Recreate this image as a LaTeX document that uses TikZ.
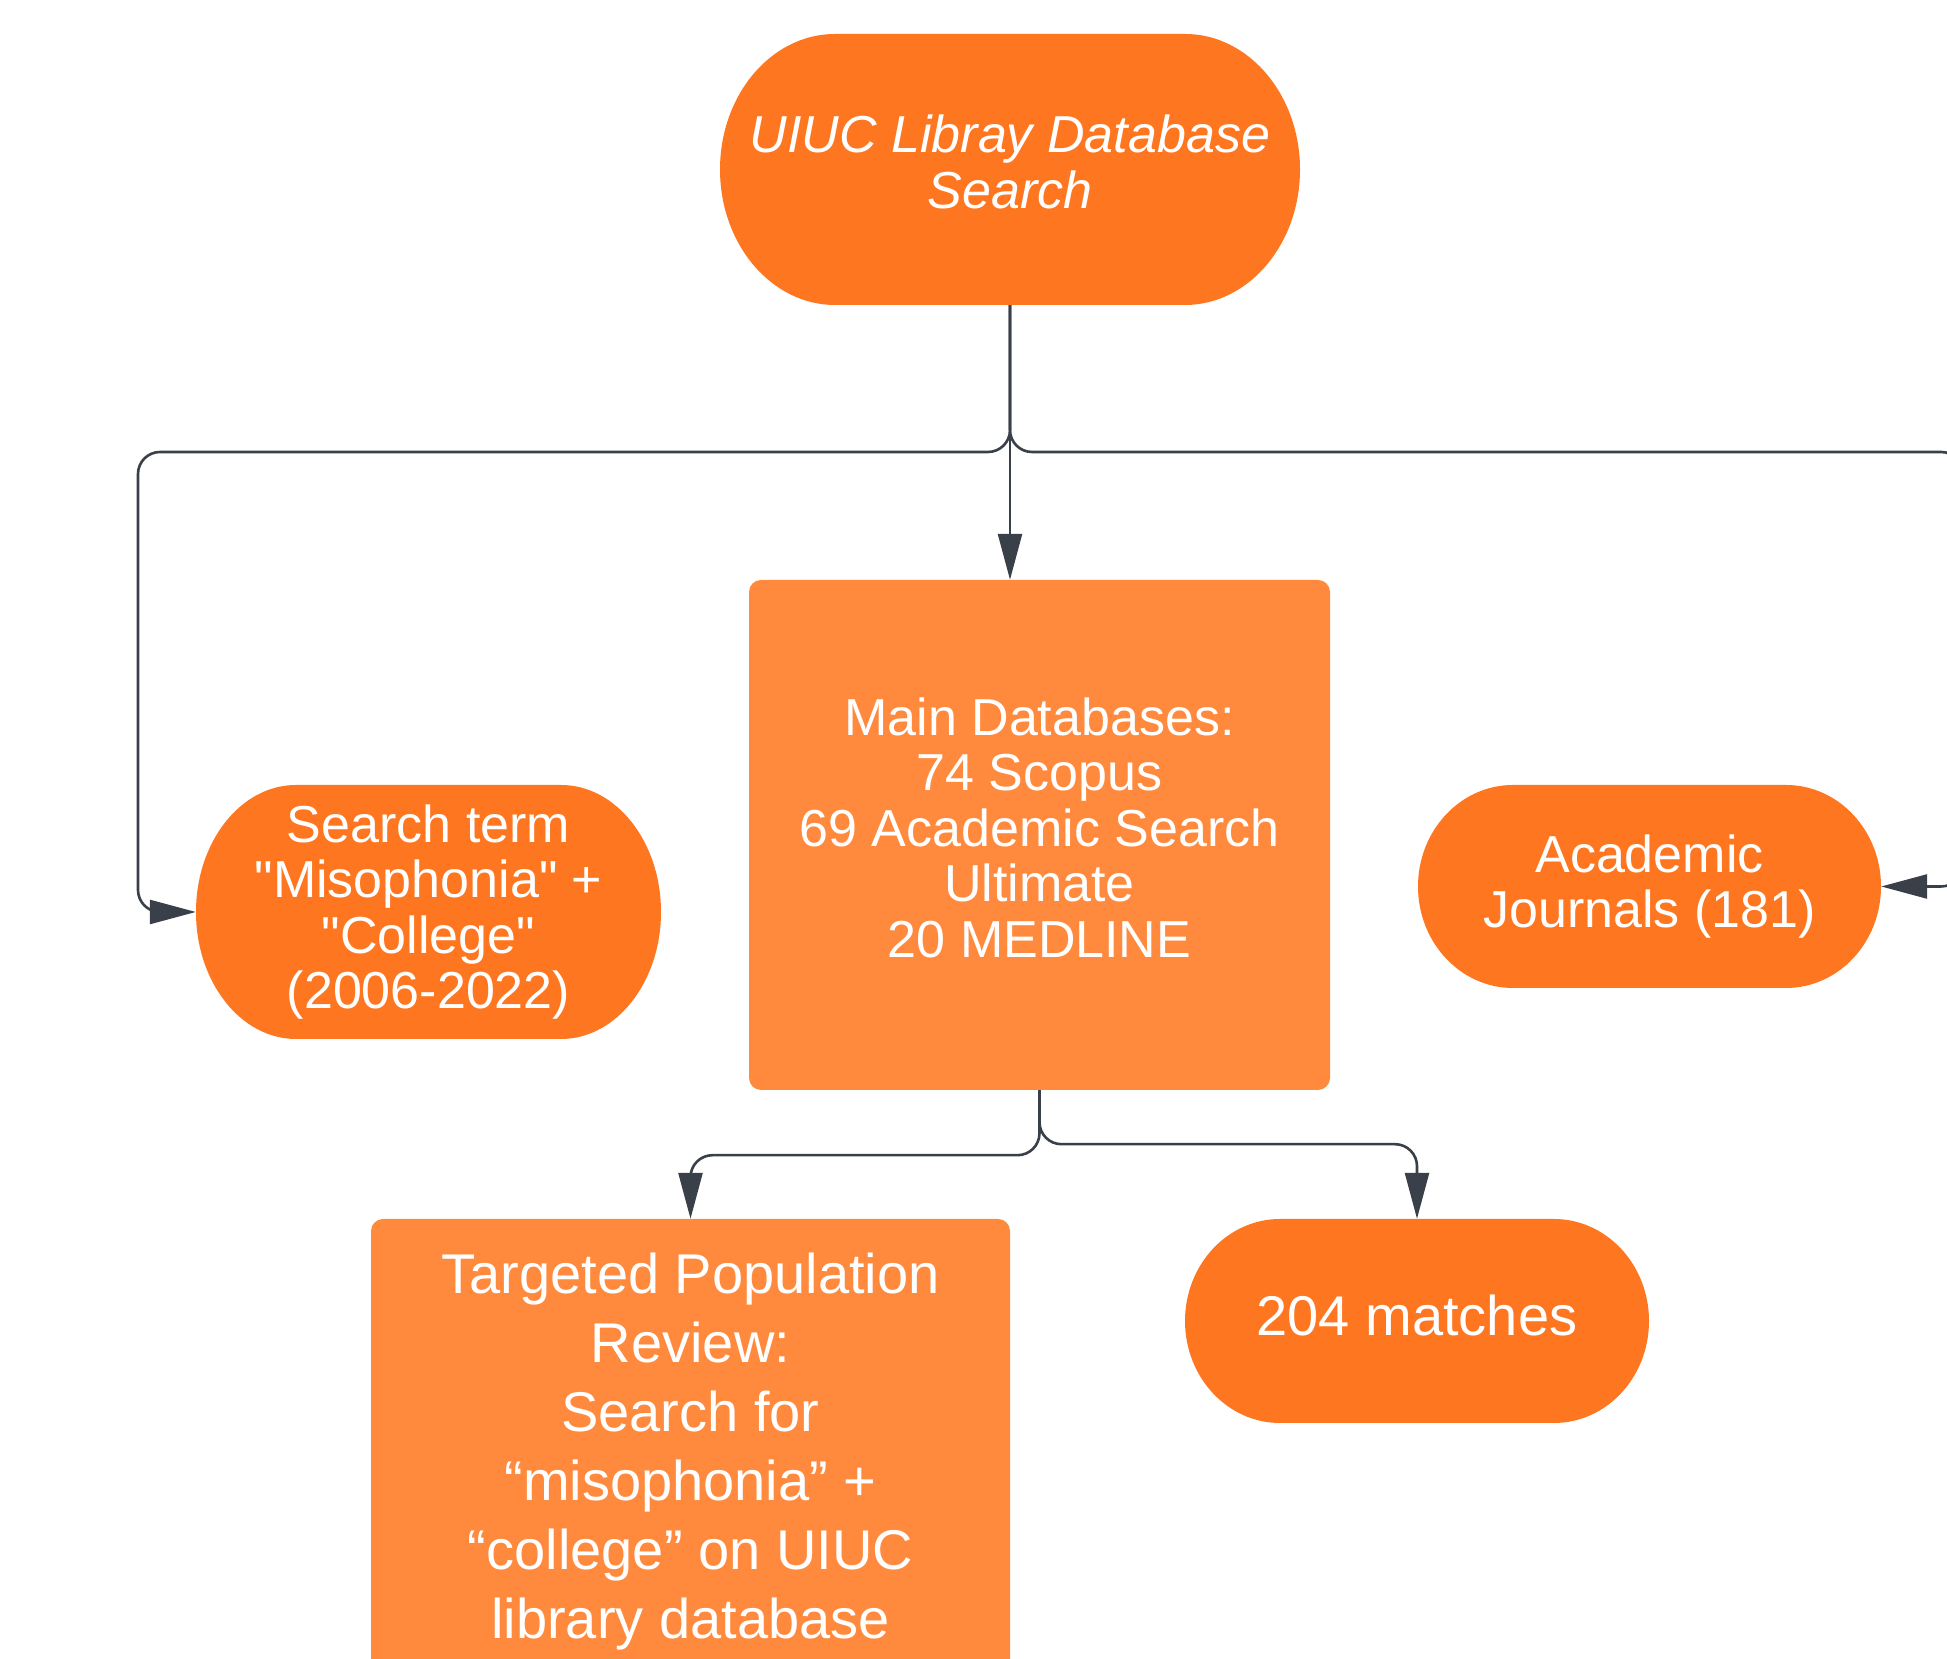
\documentclass[tikz,border=0pt]{standalone}
\usepackage{fontspec}
\setmainfont{Liberation Sans}
\newfontfamily\nomapfont{Liberation Sans}
\usetikzlibrary{arrows.meta}
\definecolor{termorange}{HTML}{FE7620}
\definecolor{boxorange}{HTML}{FF8A3D}
\definecolor{linegray}{HTML}{3A4049}
\newcommand\sq{{\nomapfont\char34}}
\tikzset{
  conn/.style={draw=linegray, line width=2.6pt, rounded corners=22pt},
  tip/.style={-{Triangle[length=46pt,width=24pt]}},
  lbl/.style={text=white, align=center, font=\fontsize{52}{55.5}\selectfont, inner sep=0pt},
  biglbl/.style={text=white, align=center, font=\fontsize{56}{69}\selectfont, inner sep=0pt},
  boxnode/.style={fill=boxorange, rounded corners=12pt, inner sep=0pt},
}
\newcommand\stadfill[5]{%
  \pgfmathsetmacro\sxa{#1-#3/2}\pgfmathsetmacro\sxb{#1+#3/2}%
  \pgfmathsetmacro\sya{#2-#4/2}\pgfmathsetmacro\syb{#2+#4/2}%
  \pgfmathsetmacro\shh{#4/2}%
  \fill[termorange] (\sxa+#5,\syb) -- (\sxb-#5,\syb)
    arc[start angle=90,end angle=-90,x radius=#5,y radius=\shh]
    -- (\sxa+#5,\sya)
    arc[start angle=270,end angle=90,x radius=#5,y radius=\shh] -- cycle;}
\begin{document}
\begin{tikzpicture}[x=1pt,y=1pt]
\useasboundingbox (0,0) rectangle (1947,1659);
\clip (0,0) rectangle (1947,1659);
\fill[white] (0,0) rectangle (1947,1659);

% terminator shapes
\stadfill{1010}{1489.5}{580}{271}{115}
\stadfill{428.5}{747}{465}{254}{100}
\stadfill{1649.5}{772.5}{463}{203}{95}
\stadfill{1417}{338}{464}{204}{95}

\node[lbl, minimum width=580pt, minimum height=271pt] (top) at (1010,1489.5)
  {\raisebox{2.5pt}{\itshape\begin{tabular}{@{}c@{}}UIUC Libray Database\\Search\end{tabular}}};
\node[lbl, minimum width=465pt, minimum height=254pt] (search) at (428.5,747)
  {Search term\\\sq Misophonia\sq{} +\\\sq College\sq\\(2006-2022)};
\node[lbl, minimum width=463pt, minimum height=203pt] (acad) at (1649.5,772.5)
  {Academic\\Journals (181)};
\node[biglbl, minimum width=464pt, minimum height=204pt] (match) at (1417,338)
  {\raisebox{11pt}{204 matches}};

\node[boxnode, lbl, minimum width=581pt, minimum height=510pt] (main) at (1039.5,824)
  {\raisebox{6pt}{\begin{tabular}{@{}c@{}}Main Databases:\\74 Scopus\\69 Academic Search\\Ultimate\\20 MEDLINE\end{tabular}}};
\node[boxnode, biglbl, minimum width=639pt, minimum height=465pt] (target) at (690.5,207.5)
  {Targeted Population\\Review:\\Search for\\“misophonia” +\\“college” on UIUC\\library database};

% connectors
\coordinate (split) at (1010,1207);
\coordinate (leftx) at (138,1000);
\coordinate (rightx) at (1963,1000);
\draw[conn, tip] (top.south) -- (top.south |- main.north);
\draw[conn, tip] (top.south) -- (split) -| (leftx) |- (search.west);
\draw[conn, tip] (top.south) -- (split) -| (rightx) |- (acad.east);
\draw[conn, tip] (main.south) -- ++(0,-65) -| (target.north);
\draw[conn, tip] (main.south) -- ++(0,-54) -| (match.north);
\end{tikzpicture}
\end{document}
